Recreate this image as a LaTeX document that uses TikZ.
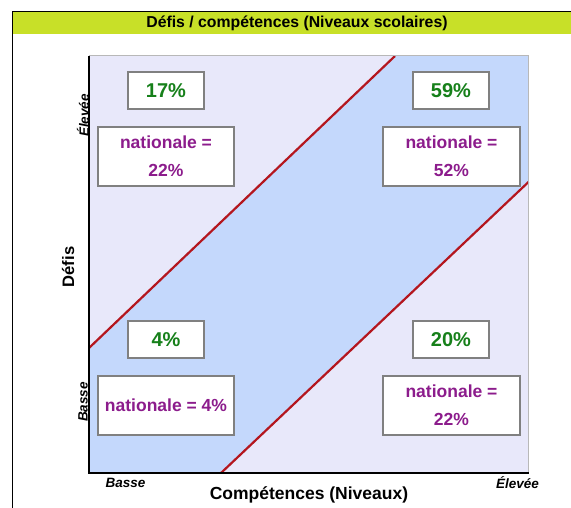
\documentclass[tikz,border=0pt]{standalone}
\usepackage{fontspec}
\setmainfont{Liberation Sans}
\definecolor{lav}{HTML}{E8E8FA}
\definecolor{band}{HTML}{C4D8FC}
\definecolor{titlebar}{HTML}{C8E028}
\definecolor{pgreen}{HTML}{16801A}
\definecolor{ppurple}{HTML}{8C1C8C}
\definecolor{redline}{HTML}{B4161E}
\definecolor{boxgray}{HTML}{808080}
\definecolor{edgegray}{HTML}{B8B8B8}
\begin{document}
\begin{tikzpicture}[x=1pt,y=-1pt,
  pctbox/.style={draw=boxgray,line width=1.2pt,fill=white,minimum width=76pt,minimum height=37pt,inner sep=0pt,
    text=pgreen,font=\bfseries\fontsize{20}{24}\selectfont},
  natbox/.style={draw=boxgray,line width=1.2pt,fill=white,minimum width=136pt,minimum height=59pt,inner sep=0pt,
    text=ppurple,font=\bfseries\fontsize{17.5}{27}\selectfont,align=center},
  redl/.style={draw=redline,line width=2.2pt},
  ticklab/.style={font=\bfseries\itshape\fontsize{13.5}{16}\selectfont,inner sep=0pt},
  axlab/.style={font=\bfseries\fontsize{17.5}{20}\selectfont,inner sep=0pt}]
\useasboundingbox (0,0) rectangle (571,508);
% outer frame and title bar
\fill[titlebar] (12.5,12) rectangle (571,34);
\draw[black,line width=1pt] (12.5,508) -- (12.5,11.5) -- (571,11.5);
\node[font=\bfseries\fontsize{15.8}{18}\selectfont,inner sep=0pt] (title) at (297,23.5) {Défis / compétences (Niveaux scolaires)};
% plot background
\fill[lav] (89,56) rectangle (528.5,473);
\coordinate (u1) at (89,348);
\coordinate (u2) at (395,56);
\coordinate (l1) at (221,473);
\coordinate (l2) at (528.5,182);
\fill[band] (u1) -- (u2) -- (528.5,56) -- (l2) -- (l1) -- (89,473) -- cycle;
\draw[redl] (u1) -- (u2);
\draw[redl] (l1) -- (l2);
\draw[edgegray,line width=1pt] (89,56) -- (528.5,56) -- (528.5,473);
\draw[black,line width=1.2pt] (89,56) -- (89,473) -- (528.5,473);
% boxes
\node[pctbox] (p17) at (166,90.5) {17\%};
\node[pctbox] (p59) at (451,90.5) {59\%};
\node[pctbox] (p4) at (166,339.5) {4\%};
\node[pctbox] (p20) at (451,339.5) {20\%};
\node[natbox] (ntl) at (166,156.5) {nationale =\\[1pt]22\%};
\node[natbox,minimum width=137pt] (ntr) at (451.5,156.5) {nationale =\\[1pt]52\%};
\node[natbox] (nbl) at (166,405.5) {nationale = 4\%};
\node[natbox,minimum width=137pt] (nbr) at (451.5,405.5) {nationale =\\[1pt]22\%};
% axis labels
\node[axlab,rotate=90,font=\bfseries\fontsize{16.6}{20}\selectfont] (ylab) at (68,267) {Défis};
\node[axlab] (xlab) at (309,495) {Compétences (Niveaux)};
\node[ticklab] (xlo) at (125.5,483) {Basse};
\node[ticklab] (xhi) at (517.5,483) {Élevée};
\node[ticklab,rotate=90] (yhi) at (83,115.5) {Élevée};
\node[ticklab,rotate=90] (ylo) at (83,402) {Basse};
\end{tikzpicture}
\end{document}
